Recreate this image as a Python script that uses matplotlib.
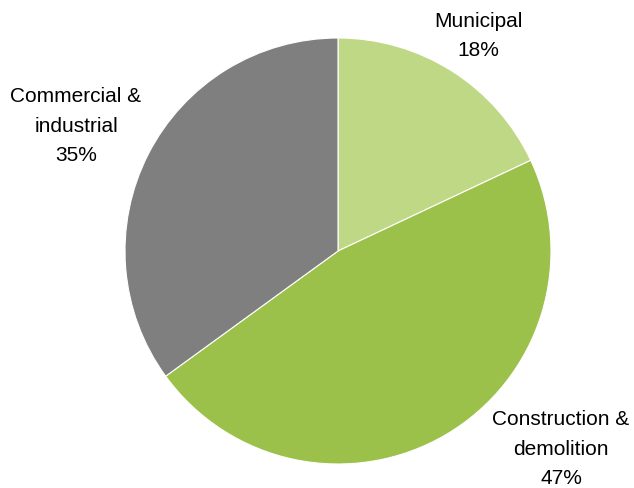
import matplotlib.pyplot as plt

# Waste sources by share (%)
categories = ["Municipal", "Construction &\ndemolition", "Commercial &\nindustrial"]
shares = [18, 47, 35]
colors = ["#BFD886", "#9CC14A", "#7F7F80"]

# label anchor points in pie units (radius = 1)
label_xy = [(0.657, 1.01), (1.047, -0.93), (-1.23, 0.585)]

plt.rcParams["font.family"] = ["Liberation Sans", "DejaVu Sans"]

fig = plt.figure(figsize=(6.34, 4.88), dpi=100)
ax = fig.add_axes([0, 0, 1, 1])
ax.pie(shares, colors=colors, startangle=90, counterclock=False,
       radius=1.0, center=(0, 0),
       wedgeprops=dict(edgecolor="white", linewidth=0.8))

for name, val, (x, y) in zip(categories, shares, label_xy):
    ax.text(x, y, f"{name}\n{val}%", ha="center", va="center",
            fontsize=15, linespacing=1.7, color="#000000")

# 1 unit = 213 px, pie centre at pixel (338, 251)
ax.set_xlim(-338 / 213, (634 - 338) / 213)
ax.set_ylim(-(488 - 251) / 213, 251 / 213)
ax.set_aspect("auto")
ax.axis("off")

fig.savefig("out.png", dpi=100, facecolor="white")
